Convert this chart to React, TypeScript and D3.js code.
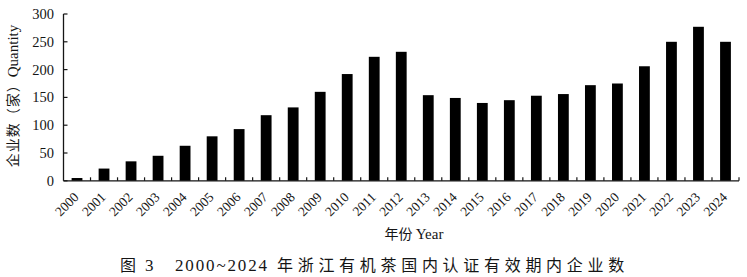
import React from "react";
import * as d3 from "d3";

const years = ["2000","2001","2002","2003","2004","2005","2006","2007","2008","2009","2010","2011","2012","2013","2014","2015","2016","2017","2018","2019","2020","2021","2022","2023","2024"];
const counts = [5, 22, 35, 45, 63, 80, 93, 118, 132, 160, 192, 223, 232, 154, 149, 140, 145, 153, 156, 172, 175, 206, 250, 277, 250];
const yTicks = [0, 50, 100, 150, 200, 250, 300];

const W = 747, H = 277;
const left = 63.5, right = 739, top = 14, bottom = 180.8;
const serif = "'Liberation Serif', 'Times New Roman', serif";
const cjk = "'Noto Sans CJK SC', sans-serif";
const ink = "#151515";

export default function App() {
  const x = d3.scaleBand<string>().domain(years).range([left, right]).paddingInner(0.6).paddingOuter(0.3);
  const y = d3.scaleLinear().domain([0, 300]).range([bottom, top]);
  const step = x.step();
  const boundaries = d3.range(1, years.length + 1).map((i) => left + i * step);

  return (
    <svg width={W} height={H} style={{ position: "absolute", left: 0, top: 0, background: "#fff" }}>
      <rect x={0} y={0} width={W} height={H} fill="#fff" />
      {years.map((yr, i) => (
        <rect key={yr} x={x(yr)} y={y(counts[i])} width={x.bandwidth()} height={bottom - y(counts[i])} fill="#000" />
      ))}
      {/* axes */}
      <line x1={left} x2={left} y1={top} y2={bottom} stroke={ink} strokeWidth={1.3} />
      <line x1={left} x2={right} y1={bottom} y2={bottom} stroke={ink} strokeWidth={1.3} />
      {yTicks.map((t) => (
        <g key={t}>
          <line x1={left} x2={left + 4} y1={y(t)} y2={y(t)} stroke={ink} strokeWidth={1.2} />
          <text x={54} y={y(t)} dy="0.35em" textAnchor="end" fontFamily={serif} fontSize={14.5} fill={ink}>{t}</text>
        </g>
      ))}
      {boundaries.map((b, i) => (
        <line key={i} x1={b} x2={b} y1={bottom} y2={bottom - 3.5} stroke={ink} strokeWidth={1.2} />
      ))}
      {years.map((yr) => {
        const cx = (x(yr) as number) + x.bandwidth() / 2 + 2.5;
        const cy = 198;
        return (
          <text key={yr} x={cx} y={cy} transform={`rotate(-45 ${cx} ${cy})`} textAnchor="end" fontFamily={serif} fontSize={13.5} fill={ink}>{yr}</text>
        );
      })}
      {/* y title */}
      <text transform={`translate(18 96) rotate(-90)`} textAnchor="middle" fill={ink}>
        <tspan fontFamily={cjk} fontSize={14} letterSpacing={1}>企业数（家）</tspan>
        <tspan fontFamily={serif} fontSize={15}>Quantity</tspan>
      </text>
      {/* x title */}
      <text x={414} y={238.5} textAnchor="middle" fill={ink}>
        <tspan fontFamily={cjk} fontSize={14}>年份 </tspan>
        <tspan fontFamily={serif} fontSize={15}>Year</tspan>
      </text>
      {/* caption */}
      <text x={120} y={271} fill={ink} fontSize={16}>
        <tspan fontFamily={cjk}>图</tspan>
        <tspan x={145} fontFamily={serif} fontSize={17}>3</tspan>
        <tspan x={175} fontFamily={serif} fontSize={17} textLength={92} lengthAdjust="spacing">2000~2024</tspan>
        <tspan x={277} fontFamily={cjk} letterSpacing={4.7}>年浙江有机茶国内认证有效期内企业数</tspan>
      </text>
    </svg>
  );
}
